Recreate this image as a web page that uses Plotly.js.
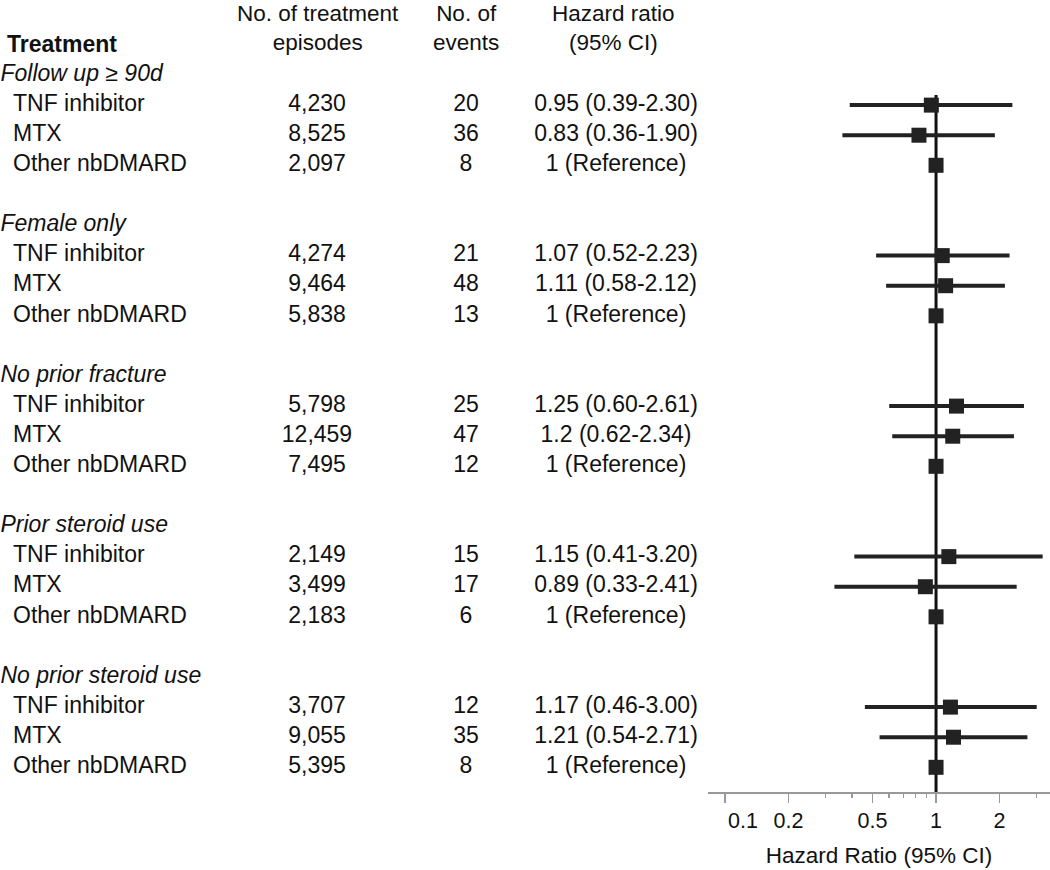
<!DOCTYPE html>
<html>
<head>
<meta charset="utf-8">
<script src="https://cdn.plot.ly/plotly-3.0.1.min.js"></script>
<style>html,body{margin:0;padding:0;background:#fff}#chart{width:1050px;height:870px}</style>
</head>
<body>
<div id="chart"></div>
<script>
// ---------- data ----------
const groups = ["Follow up ≥ 90d", "Female only", "No prior fracture", "Prior steroid use", "No prior steroid use"];
const treatments = ["TNF inhibitor", "MTX", "Other nbDMARD"];
const episodes = ["4,230", "8,525", "2,097",
                  "4,274", "9,464", "5,838",
                  "5,798", "12,459", "7,495",
                  "2,149", "3,499", "2,183",
                  "3,707", "9,055", "5,395"];
const events = ["20", "36", "8",
                "21", "48", "13",
                "25", "47", "12",
                "15", "17", "6",
                "12", "35", "8"];
const hr     = [0.95, 0.83, 1, 1.07, 1.11, 1, 1.25, 1.2, 1, 1.15, 0.89, 1, 1.17, 1.21, 1];
const ciLow  = [0.39, 0.36, 1, 0.52, 0.58, 1, 0.60, 0.62, 1, 0.41, 0.33, 1, 0.46, 0.54, 1];
const ciHigh = [2.30, 1.90, 1, 2.23, 2.12, 1, 2.61, 2.34, 1, 3.20, 2.41, 1, 3.00, 2.71, 1];
const hrLabels = ["0.95 (0.39-2.30)", "0.83 (0.36-1.90)", "1 (Reference)",
                  "1.07 (0.52-2.23)", "1.11 (0.58-2.12)", "1 (Reference)",
                  "1.25 (0.60-2.61)", "1.2 (0.62-2.34)", "1 (Reference)",
                  "1.15 (0.41-3.20)", "0.89 (0.33-2.41)", "1 (Reference)",
                  "1.17 (0.46-3.00)", "1.21 (0.54-2.71)", "1 (Reference)"];
const tickVals = [0.1, 0.2, 0.5, 1, 2];
const tickText = ["\u00a0\u00a0\u00a0\u00a0\u00a0\u00a00.1", "0.2", "0.5", "1", "2"];
const minorTickVals = [0.3, 0.4, 0.6, 0.7, 0.8, 0.9, 3];
const refValue = 1;

// ---------- layout helpers ----------
const FONT = "Liberation Sans, Arial, Helvetica, sans-serif";
const TXT = "#111";
const groupRows = groups.map((g, i) => i * 5);
const rowY = [], rowNames = [];
groups.forEach((g, gi) => treatments.forEach((t, ti) => { rowY.push(gi * 5 + ti + 1); rowNames.push(t); }));
const col = (v, n) => Array(n).fill(v);

const traces = [];
// group labels (italic)
traces.push({type: "scatter", mode: "text", xaxis: "x2", yaxis: "y",
  x: col(0.5, groups.length), y: groupRows, text: groups.map(g => "<i>" + g + "</i>"),
  textposition: "middle right", textfont: {family: FONT, size: 23, color: TXT}, cliponaxis: false, hoverinfo: "skip"});
// treatments
traces.push({type: "scatter", mode: "text", xaxis: "x2", yaxis: "y",
  x: col(13, rowY.length), y: rowY, text: rowNames,
  textposition: "middle right", textfont: {family: FONT, size: 23, color: TXT}, cliponaxis: false, hoverinfo: "skip"});
// episodes
traces.push({type: "scatter", mode: "text", xaxis: "x2", yaxis: "y",
  x: col(317, rowY.length), y: rowY, text: episodes,
  textposition: "middle center", textfont: {family: FONT, size: 23, color: TXT}, cliponaxis: false, hoverinfo: "skip"});
// events
traces.push({type: "scatter", mode: "text", xaxis: "x2", yaxis: "y",
  x: col(466, rowY.length), y: rowY, text: events,
  textposition: "middle center", textfont: {family: FONT, size: 23, color: TXT}, cliponaxis: false, hoverinfo: "skip"});
// HR labels
traces.push({type: "scatter", mode: "text", xaxis: "x2", yaxis: "y",
  x: col(616, rowY.length), y: rowY, text: hrLabels,
  textposition: "middle center", textfont: {family: FONT, size: 23, color: TXT}, cliponaxis: false, hoverinfo: "skip"});
// reference line
traces.push({type: "scatter", mode: "lines", xaxis: "x", yaxis: "y",
  x: [refValue, refValue], y: [0.66, 23.82], line: {color: "#111", width: 3}, cliponaxis: false, hoverinfo: "skip"});
// forest points with CI
traces.push({type: "scatter", mode: "markers", xaxis: "x", yaxis: "y",
  x: hr, y: rowY,
  marker: {symbol: "square", size: 15, color: "#222"},
  error_x: {type: "data", symmetric: false,
    array: hr.map((v, i) => ciHigh[i] - v),
    arrayminus: hr.map((v, i) => v - ciLow[i]),
    thickness: 4, width: 0, color: "#222"},
  cliponaxis: false});

const split = 708 / 1050;
const layout = {
  width: 1050, height: 870,
  margin: {l: 0, r: 0, t: 0, b: 78, pad: 0},
  paper_bgcolor: "#fff", plot_bgcolor: "#fff",
  showlegend: false,
  font: {family: FONT, color: TXT},
  yaxis: {range: [23.82, -2.492], visible: false, fixedrange: true},
  xaxis2: {domain: [0, split], range: [0, 708], visible: false, anchor: "y"},
  xaxis: {
    type: "log", domain: [split, 1], range: [-1.0806, 0.540], anchor: "y",
    showline: true, linecolor: "#999", linewidth: 1.5,
    showgrid: false, zeroline: false,
    ticks: "outside", ticklen: 9, tickwidth: 1.5, tickcolor: "#999",
    tickmode: "array", tickvals: tickVals, ticktext: tickText,
    tickfont: {family: FONT, size: 21.5, color: TXT},
    ticklabelstandoff: 0,
    minor: {tickmode: "array", tickvals: minorTickVals, ticklen: 4, tickwidth: 1.5, tickcolor: "#999", showgrid: false},
    title: {text: "Hazard Ratio (95% CI)", font: {family: FONT, size: 22.5, color: TXT}, standoff: 15}
  },
  annotations: [
    {xref: "x2", yref: "y", x: 5, y: -1.03, text: "<b>Treatment</b>", showarrow: false,
     xanchor: "left", yanchor: "middle", font: {family: FONT, size: 23, color: TXT}},
    {xref: "x2", yref: "y", x: 318, y: -1.56, text: "No. of treatment<br>episodes", showarrow: false,
     xanchor: "center", yanchor: "middle", font: {family: FONT, size: 22.5, color: TXT}},
    {xref: "x2", yref: "y", x: 466, y: -1.56, text: "No. of<br>events", showarrow: false,
     xanchor: "center", yanchor: "middle", font: {family: FONT, size: 22.5, color: TXT}},
    {xref: "x2", yref: "y", x: 613, y: -1.56, text: "Hazard ratio<br>(95% CI)", showarrow: false,
     xanchor: "center", yanchor: "middle", font: {family: FONT, size: 22.5, color: TXT}}
  ]
};

Plotly.newPlot("chart", traces, layout, {displayModeBar: false, staticPlot: true});
</script>
</body>
</html>
